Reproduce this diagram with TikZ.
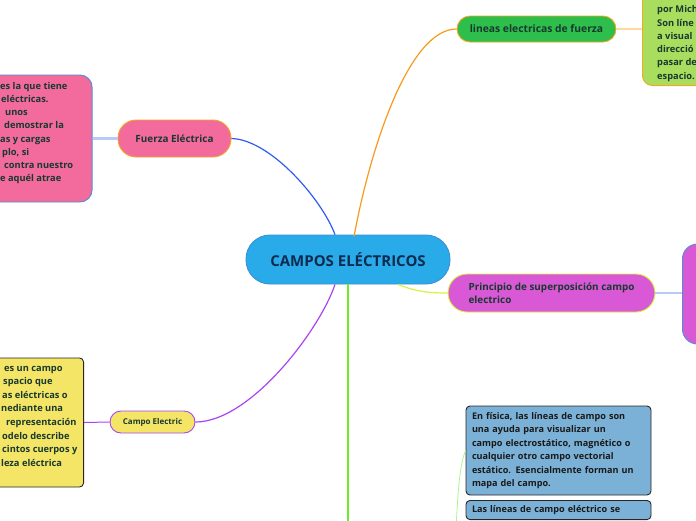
\documentclass[tikz,border=0pt]{standalone}
\usepackage{fontspec}
\setmainfont{Open Sans}
\usetikzlibrary{calc}
\definecolor{centralblue}{HTML}{29ABE9}
\definecolor{centralline}{HTML}{3A8FD6}
\definecolor{inkblue}{HTML}{0F2B4F}
\definecolor{inkgreen}{HTML}{17392E}
\definecolor{pinkfill}{HTML}{F26B9C}
\definecolor{amberline}{HTML}{F5A623}
\definecolor{greenfill}{HTML}{2EBE4C}
\definecolor{limefill}{HTML}{A8DD5E}
\definecolor{magentafill}{HTML}{D958D6}
\definecolor{limeline}{HTML}{D6F23C}
\definecolor{yellowfill}{HTML}{F5E566}
\definecolor{violetline}{HTML}{A845F2}
\definecolor{skyfill}{HTML}{7BB1D6}
\definecolor{noteline}{HTML}{4F8FD3}
\definecolor{paleblue}{HTML}{B7CBF6}
\definecolor{paleorange}{HTML}{FFD89C}
\definecolor{branchblue}{HTML}{2F5CF2}
\definecolor{branchorange}{HTML}{F79A1C}
\definecolor{branchgreen}{HTML}{6AEE24}
\definecolor{palegreen}{HTML}{A8F590}
\tikzset{
  topic/.style={draw,line width=0.9pt,align=center,inner sep=0pt,text=inkgreen,font=\bfseries\fontsize{9.9}{12.5}\selectfont},
  rootbox/.style={topic,draw=centralline,fill=centralblue,text=inkblue,rounded corners=24pt,minimum width=204pt,minimum height=49pt,font=\bfseries\fontsize{15}{17}\selectfont},
  pinktopic/.style={topic,draw=amberline,fill=pinkfill,rounded corners=18pt,minimum width=113pt,minimum height=37pt},
  greentopic/.style={topic,draw=amberline,fill=greenfill,rounded corners=13pt,minimum width=159pt,minimum height=26pt,font=\bfseries\fontsize{10.3}{12.5}\selectfont},
  magentatopic/.style={topic,draw=limeline,fill=magentafill,rounded corners=19pt,minimum width=207pt,minimum height=38pt,align=left},
  yellowtopic/.style={topic,draw=violetline,fill=yellowfill,rounded corners=11pt,minimum width=85pt,minimum height=22pt,font=\bfseries\fontsize{8}{9.5}\selectfont},
  notebox/.style={draw,line width=0.9pt,inner sep=0pt},
  pinknote/.style={notebox,draw=noteline,fill=pinkfill,rounded corners=12pt},
  limenote/.style={notebox,draw=amberline,fill=limefill,rounded corners=10pt},
  magentanote/.style={notebox,draw=noteline,fill=magentafill,rounded corners=15pt},
  yellownote/.style={notebox,draw=black!85,fill=yellowfill,rounded corners=4pt},
  linetext/.style={anchor=base west,inner sep=0pt,text=inkgreen,font=\bfseries\fontsize{9.3}{13.4}\selectfont},
  skynote/.style={notebox,draw=black!85,fill=skyfill,rounded corners=4pt,text width=173pt,inner xsep=6pt,inner ysep=5pt,align=left,text=black!90,font=\bfseries\fontsize{9.1}{13.4}\selectfont},
  branch/.style={line width=1.2pt},
  twig/.style={line width=2.2pt}
}
\begin{document}
\begin{tikzpicture}[x=1pt,y=1pt]
  \useasboundingbox (0,0) rectangle (696,-520);
  \clip (0,0) rectangle (696,-520);
  % topics
  \node[rootbox] (centro) at (348,-259.5) {CAMPOS ELÉCTRICOS};
  \node[pinktopic] (fuerza) at (174.5,-138.5) {Fuerza Eléctrica};
  \node[greentopic] (lineas) at (536.5,-29) {lineas electricas de fuerza};
  \node[magentatopic] (principio) at (551.5,-293) {Principio de superposición campo\\electrico};
  \node[yellowtopic] (campo) at (152.5,-422) {Campo Electric};
  % notes, cut by the page edge
  \node[pinknote,anchor=east,minimum width=133pt,minimum height=127pt] (fuerzanote) at (92.5,-138.5) {};
  \foreach \dx/\txt [count=\i] in {0/es la que tiene,1/eléctricas.,5/unos,4/demostrar la,0/as y cargas,2/{plo, si},4/contra nuestro,0/e aquél atrae}
    \node[linetext] (fuerzaline\i) at (\dx,{-76.5-13.1*\i}) {\txt};
  \node[limenote,anchor=south west,minimum width=120pt,minimum height=130pt] (lineasnote) at (642,-86) {};
  \foreach \txt [count=\i] in {por Mich,Son líne,a visual,direcció,pasar de,espacio.}
    \node[linetext] (lineasline\i) at (657,{0.3-13.25*\i}) {\txt};
  \node[magentanote,anchor=west,minimum width=100pt,minimum height=100pt] (principionote) at (682,-294) {};
  \node[yellownote,anchor=east,minimum width=124pt,minimum height=129pt] (camponote) at (84,-422.5) {};
  \foreach \dx/\txt [count=\i] in {4/es un campo,3/spacio que,2/as eléctricas o,1/nediante una,6/representación,2/odelo describe,2/cintos cuerpos y,1/leza eléctrica}
    \node[linetext] (campoline\i) at (\dx,{-357.4-13.6*\i}) {\txt};
  \node[skynote,minimum height=89pt] (lineasa) at (558.5,-450.5) {En física, las líneas de campo son\\una ayuda para visualizar un\\campo electrostático, magnético o\\cualquier otro campo vectorial\\estático. Esencialmente forman un\\mapa del campo.};
  \node[skynote,anchor=north] (lineasb) at (558.5,-500) {Las líneas de campo eléctrico se};
  % connectors
  \coordinate (ctopl) at ($(centro.north)+(-13,0)$);
  \coordinate (ctopr) at ($(centro.north)+(6,-2)$);
  \coordinate (cbotl) at ($(centro.south)+(-13,0)$);
  \coordinate (cbotr) at ($(centro.south)+(50,0)$);
  \coordinate (trunkend) at (348,-530);
  \coordinate (leafend) at (456,-530);
  \draw[branch,branchblue] (fuerza.east) .. controls +(39,-1) and +(-13,35) .. (ctopl);
  \draw[branch,branchorange] (ctopr) .. controls +(16,87) and +(-48,0) .. (lineas.west);
  \draw[branch,violetline] (cbotl) .. controls +(-15,-45) and +(55,0) .. (campo.east);
  \draw[branch,limeline] (cbotr) .. controls +(20,-8) and +(-15,0) .. (principio.west);
  \draw[line width=2pt,branchgreen] (centro.south) -- (trunkend);
  \draw[line width=0.8pt,palegreen] (leafend) .. controls +(2,45) and +(-5,-12) .. (lineasa.west);
  \draw[twig,paleblue] (fuerzanote.east) -- (fuerza.west);
  \draw[twig,paleorange] (lineas.east) -- (lineas.east -| lineasnote.west);
  \draw[twig,paleblue] (principio.east) -- (principio.east -| principionote.west);
  \draw[line width=1pt,violetline] (camponote.east) -- (campo.west);
\end{tikzpicture}
\end{document}
